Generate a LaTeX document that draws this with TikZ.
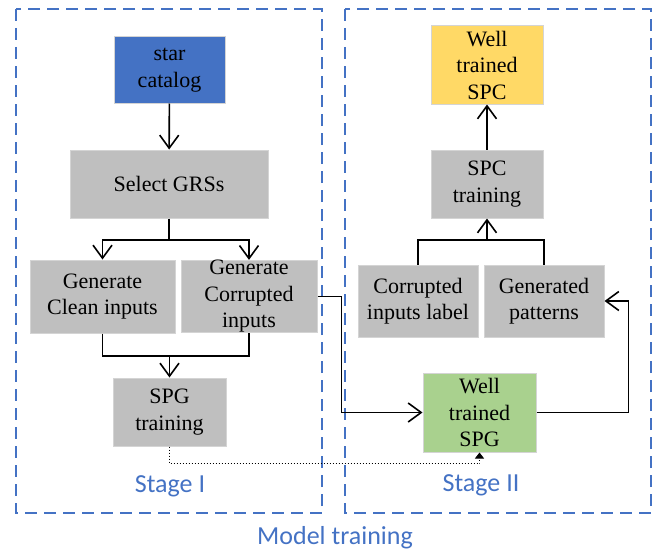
\documentclass[tikz,border=0pt]{standalone}
\usepackage{fontspec}
\setmainfont{Liberation Serif}
\newfontfamily\stagefont{Carlito}
\usetikzlibrary{arrows.meta}
\definecolor{boxgray}{HTML}{BFBFBF}
\definecolor{boxedge}{HTML}{D4D4D4}
\definecolor{stageblue}{HTML}{4472C4}
\definecolor{catblue}{HTML}{4472C4}
\definecolor{spggreen}{HTML}{A9D18E}
\definecolor{spcyellow}{HTML}{FFD966}
\begin{document}
\begin{tikzpicture}[x=1pt,y=-1pt,
  box/.style={fill=boxgray, draw=boxedge, line width=1pt, inner sep=0pt, align=center,
    font=\fontsize{22}{26.5}\selectfont},
  arr/.style={line width=1.6pt, -{Straight Barb[length=13pt,width=19pt]}},
  link/.style={line width=1.6pt},
  stagebox/.style={draw=stageblue, line width=1.4pt, dash pattern=on 12pt off 7pt},
  stagetext/.style={text=stageblue, font=\stagefont\fontsize{26}{30}\selectfont, anchor=base, inner sep=0pt}]
\useasboundingbox (0,0) rectangle (658,551);
\draw[stagebox] (16,9) rectangle (322,513);
\draw[stagebox] (345,9) rectangle (651,513);
\node[stagetext] (st1) at (170,492) {Stage I};
\node[stagetext] (st2) at (481,491) {Stage II};
\node[stagetext] (model) at (335,544) {Model training};
\node[box, fill=catblue, minimum width=111pt, minimum height=66pt] (star) at (169.5,70) {star\\catalog};
\node[box, minimum width=198pt, minimum height=68pt] (grs) at (169,184) {Select GRSs};
\node[box, minimum width=145pt, minimum height=73pt] (clean) at (102.5,296.5) {Generate\\Clean inputs};
\node[box, minimum width=136pt, minimum height=71pt] (corr) at (249,296.5) {Generate\\Corrupted\\inputs};
\node[box, minimum width=113pt, minimum height=68pt] (spgt) at (169.5,412) {SPG\\training};
\node[box, fill=spggreen, minimum width=113pt, minimum height=79pt] (wspg) at (479.5,412.5) {Well\\trained\\SPG};
\node[box, minimum width=120pt, minimum height=72pt] (lab) at (418,301) {Corrupted\\inputs label};
\node[box, minimum width=120pt, minimum height=72pt] (pat) at (544,301) {Generated\\patterns};
\node[box, minimum width=112pt, minimum height=68pt] (spct) at (487,184) {SPC\\training};
\node[box, fill=spcyellow, minimum width=112pt, minimum height=78pt] (wspc) at (487,65) {Well\\trained\\SPC};
\coordinate (s1) at (169,240);
\coordinate (s2) at (169.5,356);
\coordinate (s3) at (487,240);
\draw[arr] (star) -- (grs);
\draw[link] (grs.south) -- (s1);
\draw[arr] (s1) -| (clean.north);
\draw[arr] (s1) -| (corr.north);
\draw[link] (clean.south) |- (s2) -| (corr.south);
\draw[arr] (s2) -- (spgt.north);
\draw[arr] (corr.east) -- ++(24,0) |- (wspg.west);
\draw[arr] (wspg.east) -- ++(92,0) |- (pat.east);
\draw[dotted, line width=1pt, -{Triangle[length=6pt,width=9pt]}] (spgt.south) -- ++(0,17) -| (wspg.south);
\draw[link] (lab.north) |- (s3) -| (pat.north);
\draw[arr] (s3) -- (spct.south);
\draw[arr] (spct) -- (wspc);
\end{tikzpicture}
\end{document}
